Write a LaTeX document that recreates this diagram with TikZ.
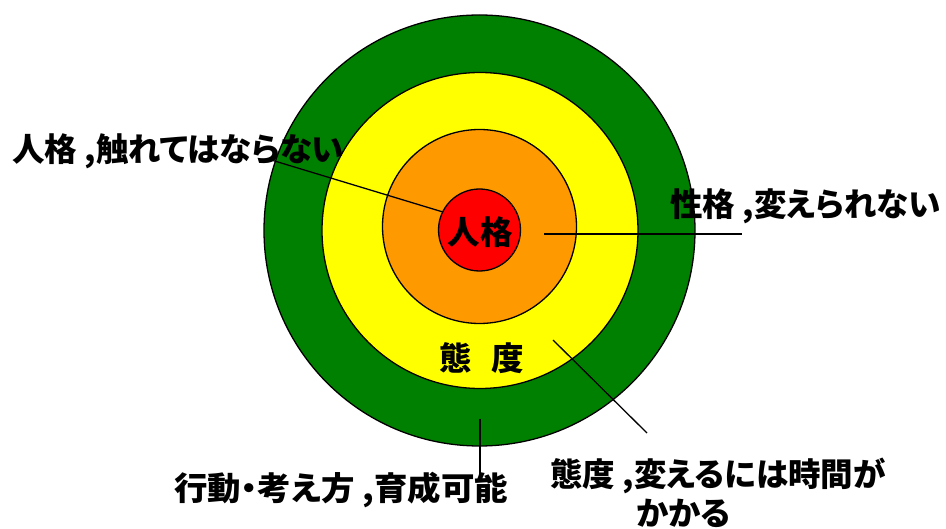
\documentclass[tikz,border=0pt]{standalone}
\usepackage{fontspec}
\newfontfamily\jp[RawFeature=+palt]{Noto Sans CJK JP}
\definecolor{ringgreen}{RGB}{0,128,0}
\definecolor{ringyellow}{RGB}{255,255,0}
\definecolor{ringorange}{RGB}{255,153,0}
\definecolor{ringred}{RGB}{255,0,0}
\tikzset{
  ring/.style={circle, draw=black, line width=1.3pt, inner sep=0pt},
  lbl/.style={font=\jp\bfseries\fontsize{32.5}{36}\selectfont, inner sep=0pt, text=black},
  conn/.style={draw=black, line width=1.3pt}
}
\begin{document}
\begin{tikzpicture}[x=1pt,y=-1pt]
\useasboundingbox (0,0) rectangle (946,529);
\node[ring, fill=ringgreen, minimum size=431pt] (outer) at (479.5,230.5) {};
\node[ring, fill=ringyellow, minimum size=316pt] (yellow) at (480,230.5) {};
\node[ring, fill=ringorange, minimum size=194pt] (orange) at (479.5,226.5) {};
\node[ring, fill=ringred, minimum size=82pt] (red) at (479.5,230) {};
\node[lbl] (tred) at (480,232) {人格};
\node[lbl] (tyellow) at (482,358) {態\hspace{0.6em}度};
\node[lbl, anchor=west] (t1) at (12,151) {人格 ,触れてはならない};
\node[lbl, anchor=west] (t2) at (670,206) {性格 ,変えられない};
\node[lbl, anchor=west, xscale=1.03] (t3) at (174,490) {行動・考え方 ,育成可能};
\node[lbl, anchor=west] (t4a) at (550,476) {態度 ,変えるには時間が};
\node[lbl, anchor=west] (t4b) at (636,513) {かかる};
\coordinate (c1) at (268,159);
\coordinate (c2a) at (544,234);
\coordinate (c2b) at (742,234);
\coordinate (c3a) at (480,419);
\coordinate (c3b) at (480,478);
\coordinate (c4a) at (553,340);
\coordinate (c4b) at (647,433);
\draw[conn] (c1) -- (red.154);
\draw[conn] (c2a) -- (c2b);
\draw[conn] (c3a) -- (c3b);
\draw[conn] (c4a) -- (c4b);
\end{tikzpicture}
\end{document}
